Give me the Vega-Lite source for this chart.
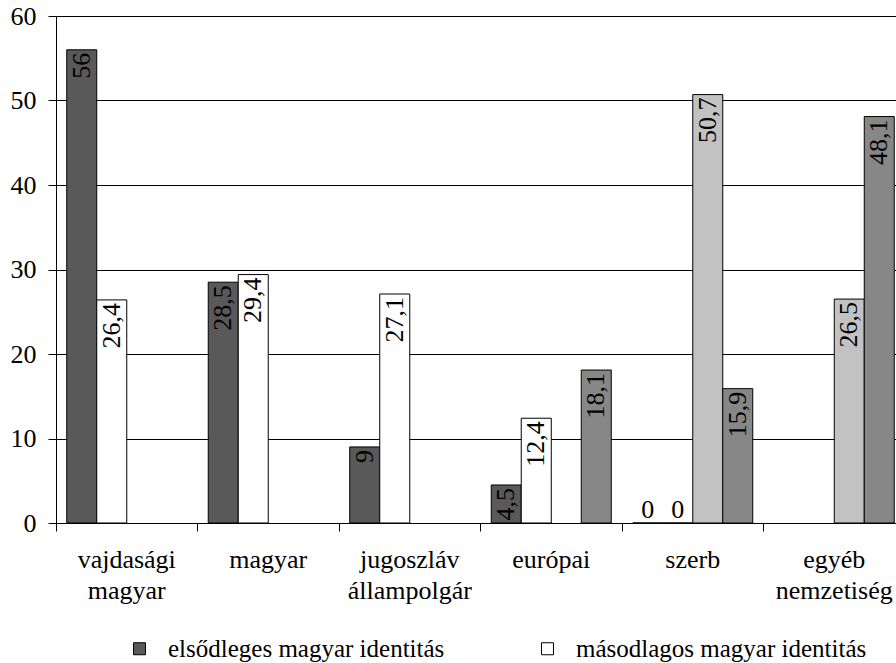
{
  "$schema": "https://vega.github.io/schema/vega-lite/v6.json",
  "width": 840,
  "height": 507,
  "autosize": {"type": "none"},
  "padding": {"left": 56, "top": 16, "right": 0, "bottom": 140},
  "background": "white",
  "config": {
    "view": {"stroke": null},
    "font": "Liberation Serif, Times New Roman, DejaVu Serif, serif",
    "locale": {"number": {"decimal": ",", "thousands": " ", "grouping": [3], "currency": ["", ""]}}
  },
  "data": {
    "values": [
      {"kategoria": "vajdasági magyar", "sorozat": "elsődleges magyar identitás", "ertek": 56},
      {"kategoria": "vajdasági magyar", "sorozat": "másodlagos magyar identitás", "ertek": 26.4},
      {"kategoria": "magyar", "sorozat": "elsődleges magyar identitás", "ertek": 28.5},
      {"kategoria": "magyar", "sorozat": "másodlagos magyar identitás", "ertek": 29.4},
      {"kategoria": "jugoszláv állampolgár", "sorozat": "elsődleges magyar identitás", "ertek": 9},
      {"kategoria": "jugoszláv állampolgár", "sorozat": "másodlagos magyar identitás", "ertek": 27.1},
      {"kategoria": "európai", "sorozat": "elsődleges magyar identitás", "ertek": 4.5},
      {"kategoria": "európai", "sorozat": "másodlagos magyar identitás", "ertek": 12.4},
      {"kategoria": "európai", "sorozat": "másodlagos nem magyar identitás", "ertek": 18.1},
      {"kategoria": "szerb", "sorozat": "elsődleges magyar identitás", "ertek": 0},
      {"kategoria": "szerb", "sorozat": "másodlagos magyar identitás", "ertek": 0},
      {"kategoria": "szerb", "sorozat": "elsődleges nem magyar identitás", "ertek": 50.7},
      {"kategoria": "szerb", "sorozat": "másodlagos nem magyar identitás", "ertek": 15.9},
      {"kategoria": "egyéb nemzetiség", "sorozat": "elsődleges nem magyar identitás", "ertek": 26.5},
      {"kategoria": "egyéb nemzetiség", "sorozat": "másodlagos nem magyar identitás", "ertek": 48.1}
    ]
  },
  "encoding": {
    "x": {
      "field": "kategoria",
      "type": "nominal",
      "sort": ["vajdasági magyar", "magyar", "jugoszláv állampolgár", "európai", "szerb", "egyéb nemzetiség"],
      "scale": {"range": [0, 849], "paddingInner": 0, "paddingOuter": 0},
      "axis": {
        "title": null,
        "bandPosition": 0,
        "labelExpr": "split(datum.label, ' ')",
        "labelAngle": 0,
        "labelAlign": "center",
        "labelBaseline": "top",
        "labelPadding": 15,
        "labelLineHeight": 31,
        "labelFontSize": 26,
        "labelColor": "black",
        "labelOverlap": false,
        "labelBound": false,
        "labelFlush": false,
        "tickSize": 8,
        "tickColor": "black",
        "tickWidth": 1,
        "domainColor": "black",
        "grid": false
      }
    },
    "xOffset": {
      "field": "sorozat",
      "type": "nominal",
      "scale": {
        "domain": ["elsődleges magyar identitás", "másodlagos magyar identitás", "elsődleges nem magyar identitás", "másodlagos nem magyar identitás"],
        "paddingInner": 0,
        "paddingOuter": 0.358
      }
    },
    "y": {
      "field": "ertek",
      "type": "quantitative",
      "scale": {"domain": [0, 60], "nice": false},
      "axis": {
        "title": null,
        "values": [0, 10, 20, 30, 40, 50, 60],
        "grid": true,
        "gridColor": "black",
        "gridWidth": 1,
        "domainColor": "black",
        "tickColor": "black",
        "tickSize": 8,
        "labelPadding": 12,
        "labelFontSize": 26,
        "labelColor": "black"
      }
    }
  },
  "layer": [
    {
      "mark": {"type": "bar", "stroke": "black", "strokeWidth": 1},
      "encoding": {
        "color": {
          "field": "sorozat",
          "type": "nominal",
          "scale": {
            "domain": ["elsődleges magyar identitás", "másodlagos magyar identitás", "elsődleges nem magyar identitás", "másodlagos nem magyar identitás"],
            "range": ["#595959", "#ffffff", "#c2c2c2", "#878787"]
          },
          "legend": {
            "orient": "none",
            "legendX": 71,
            "legendY": 620,
            "direction": "horizontal",
            "values": ["elsődleges magyar identitás", "másodlagos magyar identitás"],
            "title": null,
            "symbolType": "square",
            "symbolSize": 144,
            "symbolStrokeColor": "black",
            "symbolStrokeWidth": 1,
            "symbolOpacity": 1,
            "labelFontSize": 25,
            "labelColor": "black",
            "labelOffset": 16,
            "columnPadding": 90,
            "labelLimit": 400
          }
        }
      }
    },
    {
      "transform": [{"filter": "datum.ertek > 0"}],
      "mark": {"type": "text", "angle": 270, "align": "right", "baseline": "middle", "dx": -3, "fontSize": 26, "color": "black"},
      "encoding": {
        "text": {"field": "ertek", "type": "quantitative", "format": "~g"}
      }
    },
    {
      "transform": [{"filter": "datum.ertek == 0"}],
      "mark": {"type": "text", "align": "center", "baseline": "alphabetic", "dy": -5, "fontSize": 26, "color": "black"},
      "encoding": {
        "text": {"field": "ertek", "type": "quantitative", "format": "~g"}
      }
    }
  ]
}
